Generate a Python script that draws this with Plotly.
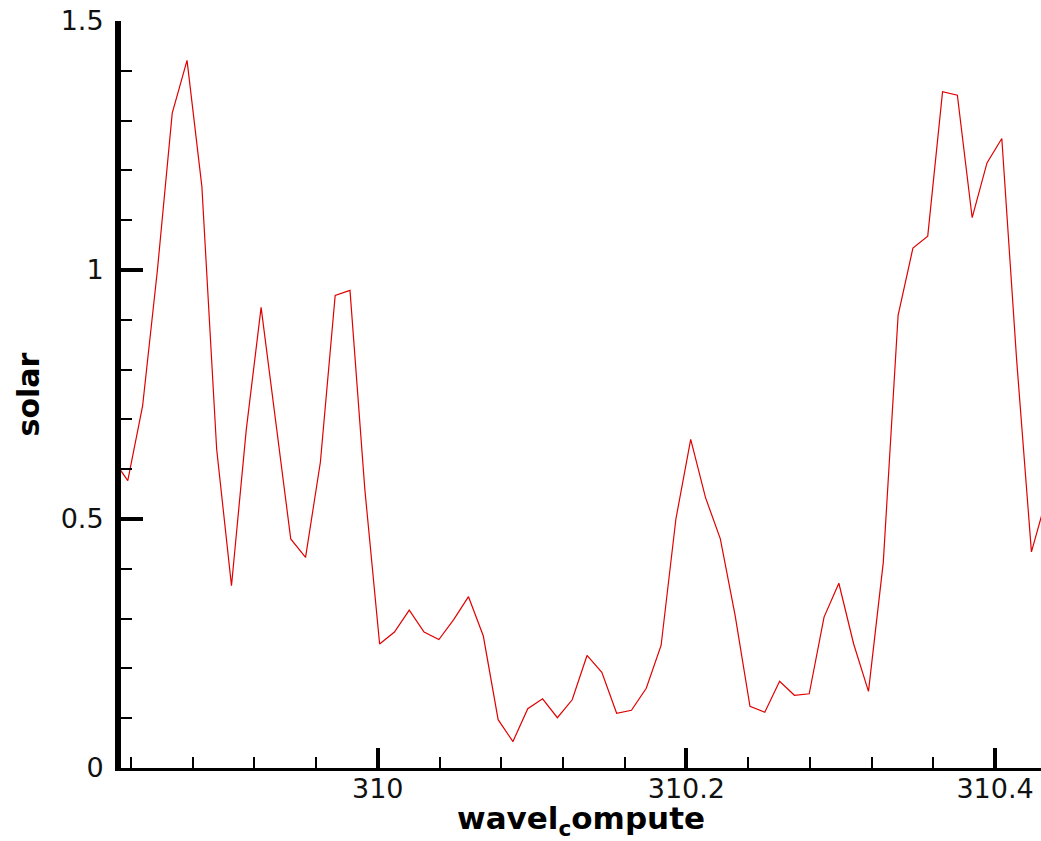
import plotly.graph_objects as go

wavelength = [
    309.8284, 309.8380, 309.8476, 309.8572, 309.8668, 309.8764, 309.8860, 309.8956,
    309.9052, 309.9148, 309.9244, 309.9340, 309.9436, 309.9532, 309.9628, 309.9724,
    309.9820, 309.9916, 310.0012, 310.0108, 310.0204, 310.0300, 310.0396, 310.0492,
    310.0588, 310.0684, 310.0780, 310.0876, 310.0972, 310.1068, 310.1164, 310.1260,
    310.1356, 310.1452, 310.1548, 310.1644, 310.1740, 310.1836, 310.1932, 310.2028,
    310.2124, 310.2220, 310.2316, 310.2412, 310.2508, 310.2604, 310.2700, 310.2796,
    310.2892, 310.2988, 310.3084, 310.3180, 310.3276, 310.3372, 310.3468, 310.3564,
    310.3660, 310.3756, 310.3852, 310.3948, 310.4044, 310.4140, 310.4236, 310.4332,
]
solar = [
    0.62, 0.577, 0.727, 1.00, 1.315, 1.421, 1.168, 0.64,
    0.366, 0.68, 0.925, 0.69, 0.46, 0.423, 0.614, 0.949,
    0.959, 0.56, 0.249, 0.273, 0.317, 0.273, 0.258, 0.298,
    0.344, 0.265, 0.097, 0.053, 0.119, 0.139, 0.101, 0.137,
    0.226, 0.192, 0.110, 0.116, 0.160, 0.246, 0.500, 0.660,
    0.543, 0.460, 0.306, 0.124, 0.112, 0.174, 0.146, 0.149,
    0.303, 0.371, 0.249, 0.154, 0.413, 0.909, 1.044, 1.068,
    1.358, 1.351, 1.105, 1.215, 1.264, 0.82, 0.434, 0.54,
]
x_ticks = [310.0, 310.2, 310.4]
x_ticklabels = ["310", "310.2", "310.4"]
y_ticks = [0, 0.5, 1.0, 1.5]
y_ticklabels = ["0", "0.5", "1", "1.5"]

fig = go.Figure(
    go.Scatter(
        x=wavelength, y=solar, mode="lines",
        line=dict(color="#e00000", width=1.2),
        showlegend=False, hoverinfo="x+y",
    )
)

font_family = "DejaVu Sans"
fig.update_layout(
    width=1041, height=841,
    margin=dict(l=121, r=0, t=21, b=73, pad=0),
    paper_bgcolor="white", plot_bgcolor="white",
    font=dict(family=font_family, color="black"),
)
fig.update_xaxes(
    range=[309.8336, 310.4298],
    automargin=False,
    tickmode="array", tickvals=x_ticks, ticktext=x_ticklabels,
    ticks="inside", ticklen=20, tickwidth=4, tickcolor="black",
    tickfont=dict(size=27, color="#111111", family=font_family),
    ticklabelstandoff=-5,
    minor=dict(ticks="inside", ticklen=11, tickwidth=1.5, tickcolor="black", dtick=0.04, tick0=310.0, showgrid=False),
    showline=True, linecolor="black", linewidth=3,
    showgrid=False, zeroline=False,
    title=dict(text="wavel<sub>c</sub>ompute", font=dict(size=31, family=font_family, color="black", weight="bold"), standoff=19),
)
fig.update_yaxes(
    range=[0, 1.5],
    automargin=False,
    tickmode="array", tickvals=y_ticks, ticktext=y_ticklabels,
    ticks="inside", ticklen=22, tickwidth=4, tickcolor="black",
    tickfont=dict(size=27, color="#111111", family=font_family),
    ticklabelstandoff=6,
    minor=dict(ticks="inside", ticklen=11, tickwidth=1.5, tickcolor="black", dtick=0.1, tick0=0, showgrid=False),
    showline=True, linecolor="black", linewidth=6,
    showgrid=False, zeroline=False,
    title=dict(text="solar", font=dict(size=30, family=font_family, color="black", weight="bold"), standoff=14),
)

fig.write_html("out.html")
